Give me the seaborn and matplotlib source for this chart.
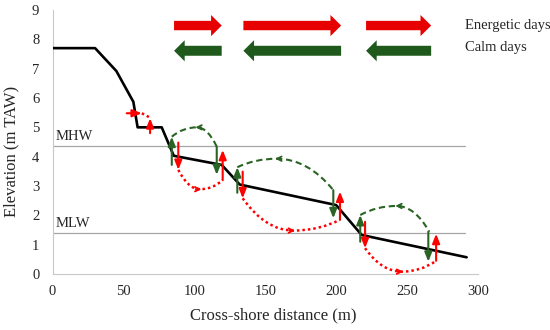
import numpy as np
import seaborn as sns
import matplotlib.pyplot as plt
from matplotlib.path import Path
from matplotlib.patches import PathPatch, FancyArrow

# beach profile
profile_x = [0, 30, 45, 57, 60, 77, 85.5, 119.3, 132, 200, 218, 292]
profile_y = [7.7, 7.7, 6.92, 5.87, 5.0, 5.0, 4.03, 3.72, 3.05, 2.35, 1.33, 0.57]

# tide levels
level_names = ['MHW', 'MLW']
level_y = [4.35, 1.39]
level_x_end = 291

# vertical arrows: x, start, end
red_x = [68.8, 88.7, 120, 134.1, 202.7, 220.4, 270.5]
red_from = [4.8, 4.48, 3.2, 3.49, 1.85, 1.78, 0.45]
red_to = [5.31, 3.55, 4.23, 2.58, 2.81, 0.88, 1.37]

green_x = [84.1, 115.8, 130.3, 198, 217, 265]
green_from = [3.72, 4.34, 2.77, 2.86, 1.1, 1.44]
green_to = [4.68, 3.38, 3.64, 1.9, 2.01, 0.42]

# loops: start, extreme point, end
green_loops = [[(84.1, 4.68), (101.7, 5.0), (115.8, 4.34)],
               [(130.3, 3.64), (158, 3.93), (198, 2.86)],
               [(217, 2.01), (242.7, 2.32), (265.7, 1.44)]]
red_loops = [[(88.7, 3.55), (104, 2.89), (120, 3.2)],
             [(134.1, 2.58), (170, 1.48), (202.7, 1.85)],
             [(220.4, 0.88), (246.3, 0.08), (270.5, 0.45)]]

# small horizontal red arrow at the dune foot
dune_arrow = [(52.3, 5.48), (63, 5.48), (68.8, 5.33)]

# legend block arrows
block_starts = [85.7, 134.6, 221.1]
block_ends = [119.3, 203.5, 267.0]
energetic_y = 8.47
calm_y = 7.61

RED = '#E60000'
GREEN = '#1F5A1C'
SMALL_RED = '#FF0000'
SMALL_GREEN = '#2A6424'

sns.set_style('white')
plt.rcParams['font.family'] = ['Liberation Serif', 'DejaVu Serif']

fig = plt.figure(figsize=(5.5, 3.3), dpi=100)
ax = fig.add_axes([0.0955, 0.1697, 0.7735, 0.8])


def loop_path(p0, pm, p1, k=0.45):
    verts = [p0, (p0[0] + k * (pm[0] - p0[0]), pm[1]), pm,
             (p1[0] - k * (p1[0] - pm[0]), pm[1]), p1]
    codes = [Path.MOVETO, Path.CURVE3, Path.CURVE3, Path.CURVE3, Path.CURVE3]
    return Path(verts, codes)


for name, y in zip(level_names, level_y):
    sns.lineplot(x=[0, level_x_end], y=[y, y], color='#A6A6A6', lw=0.9, ax=ax)
    ax.text(2.5, y + 0.1, name, fontsize=10.5, va='bottom', ha='left')

sns.lineplot(x=profile_x, y=profile_y, color='black', lw=1.9, ax=ax, zorder=5)

head = '-|>,head_length=0.55,head_width=0.22'

# loops
for pts in green_loops:
    ax.add_patch(PathPatch(loop_path(*pts), fill=False, edgecolor=SMALL_GREEN,
                           lw=1.5, linestyle=(0, (3, 1.8)), zorder=4))
    px, py = pts[1]
    ax.annotate('', xy=(px - 1, py), xytext=(px + 3, py),
                arrowprops=dict(arrowstyle='->', color=SMALL_GREEN, lw=1.3,
                                shrinkA=0, shrinkB=0, mutation_scale=8))
for pts in red_loops:
    ax.add_patch(PathPatch(loop_path(*pts), fill=False, edgecolor=SMALL_RED,
                           lw=1.8, linestyle=(0, (1, 1.2)), zorder=4))
    px, py = pts[1]
    ax.annotate('', xy=(px + 1, py), xytext=(px - 3, py),
                arrowprops=dict(arrowstyle='->', color=SMALL_RED, lw=1.3,
                                shrinkA=0, shrinkB=0, mutation_scale=8))

# vertical arrows
for x, a, b in zip(green_x, green_from, green_to):
    ax.annotate('', xy=(x, b), xytext=(x, a), zorder=6,
                arrowprops=dict(arrowstyle=head, color=SMALL_GREEN, lw=1.5,
                                shrinkA=0, shrinkB=0, mutation_scale=10))
for x, a, b in zip(red_x, red_from, red_to):
    ax.annotate('', xy=(x, b), xytext=(x, a), zorder=6,
                arrowprops=dict(arrowstyle=head, color=SMALL_RED, lw=1.5,
                                shrinkA=0, shrinkB=0, mutation_scale=10))

# dune foot arrow
ax.annotate('', xy=dune_arrow[1], xytext=dune_arrow[0], zorder=6,
            arrowprops=dict(arrowstyle=head, color=SMALL_RED, lw=1.5,
                            shrinkA=0, shrinkB=0, mutation_scale=10))
ax.plot([dune_arrow[1][0], dune_arrow[2][0]], [dune_arrow[1][1], dune_arrow[2][1]],
        color=SMALL_RED, lw=1.8, linestyle=(0, (1, 1.2)))

# legend block arrows
for x0, x1 in zip(block_starts, block_ends):
    ax.add_patch(FancyArrow(x0, energetic_y, x1 - x0, 0, width=0.32, head_width=0.72,
                            head_length=7.5, length_includes_head=True,
                            color=RED, lw=0, clip_on=False))
    ax.add_patch(FancyArrow(x1, calm_y, x0 - x1, 0, width=0.34, head_width=0.72,
                            head_length=7.5, length_includes_head=True,
                            color=GREEN, lw=0, clip_on=False))
ax.text(291, energetic_y, 'Energetic days', fontsize=10.5, va='center', ha='left', clip_on=False)
ax.text(291, calm_y + 0.1, 'Calm days', fontsize=10.5, va='center', ha='left', clip_on=False)

ax.set_xlim(0, 300)
ax.set_ylim(0, 9)
ax.set_xticks(np.arange(0, 301, 50))
ax.set_yticks(np.arange(0, 10, 1))
ax.tick_params(axis='both', length=0, labelsize=10.5)
ax.tick_params(axis='x', pad=8)
ax.tick_params(axis='y', pad=9.5)
ax.set_xlabel('Cross-shore distance (m)', fontsize=12)
ax.set_ylabel('Elevation (m TAW)', fontsize=12)
ax.xaxis.set_label_coords(0.52, -0.125)
ax.yaxis.set_label_coords(-0.077, 0.463)
for s in ['top', 'right']:
    ax.spines[s].set_visible(False)
for s in ['left', 'bottom']:
    ax.spines[s].set_color('#C8C8C8')
    ax.spines[s].set_linewidth(0.8)

fig.savefig('out.png', dpi=100)
